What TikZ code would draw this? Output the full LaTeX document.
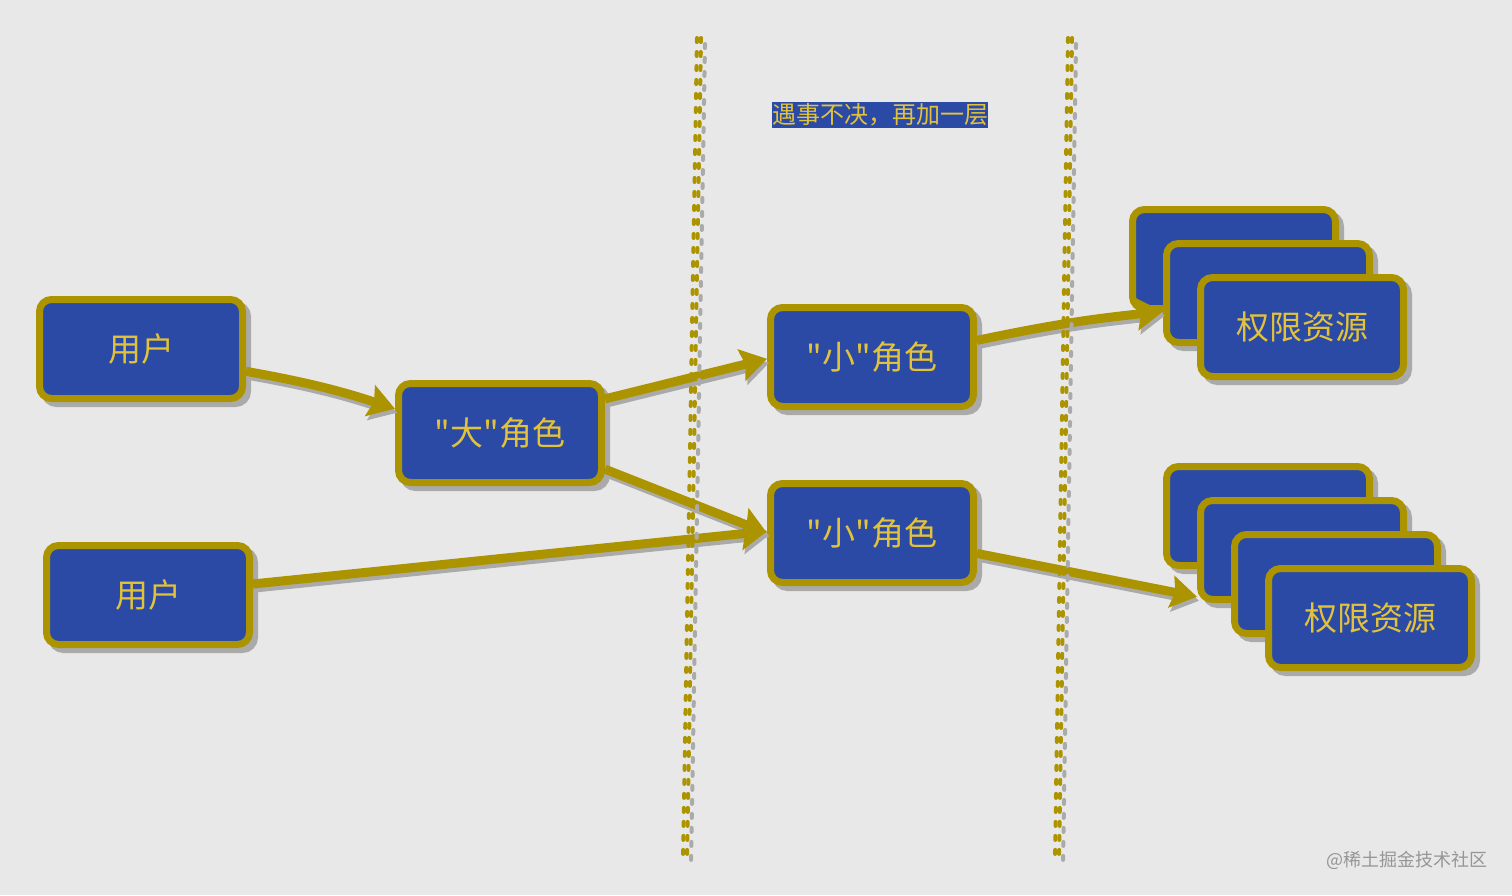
\documentclass[tikz,border=0pt]{standalone}
\usepackage{fontspec}
\newfontfamily\cjk{Noto Sans CJK SC}
\usepackage{xcolor}
\usepackage{tikz}
\usetikzlibrary{positioning,arrows.meta,shadows}

\definecolor{bgcol}{RGB}{232,232,232}
\definecolor{boxblue}{RGB}{42,74,166}
\definecolor{gold}{RGB}{172,148,0}
\definecolor{textgold}{RGB}{226,194,58}
\definecolor{shadowgray}{RGB}{170,170,170}
\definecolor{markgray}{RGB}{150,150,150}

\tikzset{
  card/.style={draw=gold, fill=boxblue, line width=7pt, rounded corners=12pt,
    minimum width=203pt, minimum height=99pt, text=textgold,
    font=\cjk\fontsize{33}{38}\selectfont,
    drop shadow={shadow xshift=5pt, shadow yshift=-5pt, fill=shadowgray,
      draw=shadowgray, opacity=1}},
  link/.style={draw=#1, line width=9pt,
    -{Stealth[length=26pt, width=32pt, inset=4pt]}},
  link/.default=gold,
  divider/.style={draw=#1, line width=4pt, line cap=round,
    dash pattern=on 4pt off 10pt},
  divider/.default=gold,
  motto/.style={fill=boxblue, text=textgold, inner xsep=0pt, inner ysep=2pt,
    font=\cjk\fontsize{24}{28}\selectfont},
  watermark/.style={text=markgray, font=\cjk\fontsize{18}{20}\selectfont}
}

\begin{document}
\begin{tikzpicture}[x=1pt, y=-1pt]
    \fill[bgcol] (0,0) rectangle (1512,895);
    \useasboundingbox (0,0) rectangle (1512,895);

    % users and roles
    \node (user1) [card] at (141,349) {用户};
    \node (user2) [card] at (148,595) {用户};
    \node (big) [card] at (500,433) {"大"角色};
    \node (small1) [card] at (872,357) {"小"角色};
    \node (small2) [card] at (872,533) {"小"角色};

    % resource stacks
    \node (res1a) [card] at (1234,259) {};
    \node (res1b) [card] at ([shift={(34,34)}]res1a) {};
    \node (res1) [card] at ([shift={(34,34)}]res1b) {权限资源};

    \node (res2a) [card] at (1268,516) {};
    \node (res2b) [card] at ([shift={(34,34)}]res2a) {};
    \node (res2c) [card] at ([shift={(34,34)}]res2b) {};
    \node (res2) [card] at ([shift={(34,34)}]res2c) {权限资源};

    \foreach \i/\j/\b in {user1.-12/big.167/4, big.18/small1.181/0, big.-19/small2.180/0,
        user2.6/small2.179/0, small1.9/res1b.190/3, small2.-11/res2b.204/0} {
        \draw[link=shadowgray, transform canvas={shift={(2pt,-4pt)}}] (\i) to[bend left=\b] (\j);
        \draw[link] (\i) to[bend left=\b] (\j);
    }

    % dotted dividers
    \coordinate (divLtop) at (697,38);
    \coordinate (divLbot) at (683,858);
    \coordinate (divRtop) at (1068,38);
    \coordinate (divRbot) at (1055,858);
    \foreach \t/\b in {divLtop/divLbot, divRtop/divRbot} {
        \draw[divider=shadowgray, transform canvas={shift={(8pt,-6pt)}}] (\t) -- (\b);
        \draw[divider, transform canvas={shift={(4pt,0pt)}}] (\t) -- (\b);
        \draw[divider] (\t) -- (\b);
    }

    \node (title) [motto] at (880,115) {遇事不决，再加一层};
    \node (mark) [watermark] at (1407,860) {@稀土掘金技术社区};
\end{tikzpicture}
\end{document}
